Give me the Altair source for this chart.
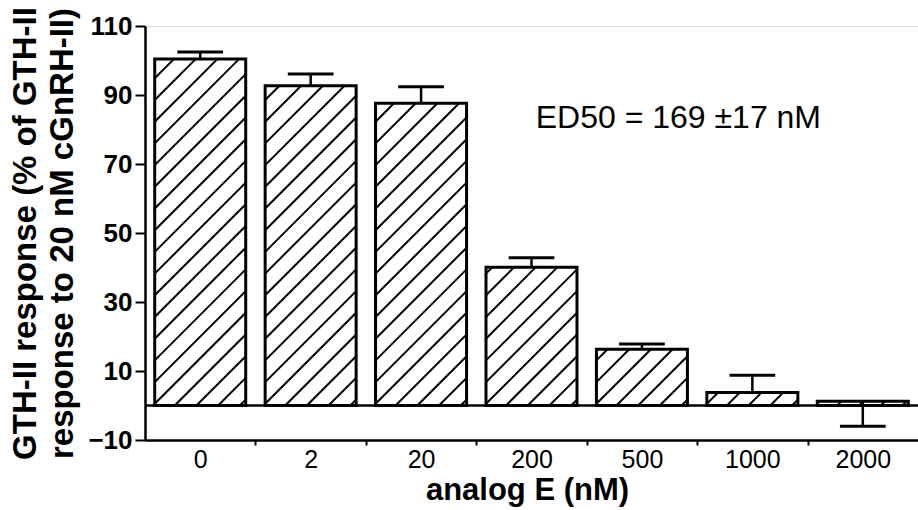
import json
import numpy as np
import pandas as pd
import altair as alt

# ---- data ----
categories = ["0", "2", "20", "200", "500", "1000", "2000"]
values = [100.4, 92.7, 87.6, 40.1, 16.3, 3.8, 1.2]
errors = [2.1, 3.4, 4.8, 2.7, 1.5, 5.0, -7.2]   # signed: last one drawn downward
y_ticks = list(range(-10, 111, 10))
annotation = "ED50 = 169 \u00b117 nM"
y_title = ["GTH-II response (% of GTH-II", "response to 20 nM  cGnRH-II)"]
x_title = "analog E (nM)"

# ---- layout / style ----
W, H = 773, 414
X_DOMAIN = [-0.5, len(categories) - 0.5]
Y_DOMAIN = [-10, 110]
HALF = 0.412       # half bar width in category units
CAP = 0.207        # half error-cap width
FONT = "Liberation Sans"
HATCH_SPACING = 21.7  # px

bars = pd.DataFrame({
    "idx": list(range(len(categories))),
    "cat": categories,
    "value": values,
    "err": errors,
})

# hatch segments (45 degree lines in pixel space), clipped to each bar
sx = W / (X_DOMAIN[1] - X_DOMAIN[0])
sy = H / (Y_DOMAIN[1] - Y_DOMAIN[0])
rows = []
for i, v in enumerate(values):
    xl = i - HALF
    Wp = 2 * HALF * sx
    Hp = v * sy
    for k in range(-10, 60):
        c = -20 + k * HATCH_SPACING
        X0 = max(0.0, -c)
        X1 = min(Wp, Hp - c)
        if X1 - X0 > 0.5:
            rows.append({
                "hx": xl + X0 / sx, "hy": (X0 + c) / sy,
                "hx2": xl + X1 / sx, "hy2": (X1 + c) / sy,
            })
hatch = pd.DataFrame(rows)

xscale = alt.Scale(domain=X_DOMAIN, nice=False, zero=False)
yscale = alt.Scale(domain=Y_DOMAIN, nice=False, zero=False)

label_js = json.dumps(categories)
x_axis = alt.Axis(
    values=[i * 0.5 for i in range(0, 2 * len(categories) - 1)],
    labelExpr=f"datum.value % 1 == 0 ? {label_js}[datum.value] : ''",
    tickOpacity={"condition": {"test": "datum.value % 1 == 0", "value": 0}, "value": 1},
    tickSize=5, tickWidth=2, tickColor="black",
    domainColor="black", domainWidth=2.5,
    labelFont=FONT, labelFontSize=25, labelColor="black", labelPadding=2,
    labelFlush=False, labelOverlap=False,
    grid=False,
    title=x_title, titleFont=FONT, titleFontSize=31, titleFontWeight="bold",
    titleColor="black", titleBaseline="alphabetic", titleY=59, titleX=382,
)
y_axis = alt.Axis(
    values=y_ticks,
    labelExpr="datum.value % 20 != 0 ? datum.label : ''",
    tickSize={"condition": {"test": "datum.value % 20 != 0", "value": 10}, "value": 5},
    tickWidth=2, tickColor="black",
    domainColor="black", domainWidth=2.5,
    labelFont=FONT, labelFontSize=26, labelFontWeight="bold", labelColor="black",
    labelPadding=3, labelFlush=False, labelOverlap=False,
    grid=False,
    title=y_title, titleFont=FONT, titleFontSize=33, titleFontWeight="bold",
    titleColor="black", titleAngle=270, titleAlign="center",
    titleBaseline="alphabetic", titleLineHeight=37, titleX=-110, titleY=207,
)

base = alt.Chart(bars).transform_calculate(
    x1=f"datum.idx - {HALF}", x2=f"datum.idx + {HALF}",
    c1=f"datum.idx - {CAP}", c2=f"datum.idx + {CAP}",
    tip="datum.value + datum.err",
)

fill = base.mark_rect(fill="white", strokeWidth=0).encode(
    x=alt.X("x1:Q", scale=xscale, axis=x_axis),
    x2="x2:Q",
    y=alt.Y("value:Q", scale=yscale, axis=y_axis),
    y2=alt.datum(0),
)

hatch_layer = alt.Chart(hatch).mark_rule(color="black", strokeWidth=2).encode(
    x=alt.X("hx:Q", scale=xscale), x2="hx2:Q",
    y=alt.Y("hy:Q", scale=yscale), y2="hy2:Q",
)

outline = base.mark_rect(fill="transparent", stroke="black", strokeWidth=3).encode(
    x=alt.X("x1:Q", scale=xscale), x2="x2:Q",
    y=alt.Y("value:Q", scale=yscale), y2=alt.datum(0),
)

err_stem = base.mark_rule(color="black", strokeWidth=2.5).encode(
    x=alt.X("idx:Q", scale=xscale),
    y=alt.Y("value:Q", scale=yscale), y2="tip:Q",
)
err_cap = base.mark_rule(color="black", strokeWidth=3).encode(
    x=alt.X("c1:Q", scale=xscale), x2="c2:Q",
    y=alt.Y("tip:Q", scale=yscale),
)

zero_line = alt.Chart(pd.DataFrame({"z": [0]})).mark_rule(
    color="black", strokeWidth=2.5
).encode(y=alt.Y("z:Q", scale=yscale))

note = alt.Chart(pd.DataFrame({"t": [annotation], "ax": [4.33], "ay": [83.3]})).mark_text(
    font=FONT, fontSize=32, color="black", align="center", baseline="middle"
).encode(
    x=alt.X("ax:Q", scale=xscale), y=alt.Y("ay:Q", scale=yscale), text="t:N"
)

chart = alt.layer(fill, hatch_layer, outline, err_stem, err_cap, zero_line, note).properties(
    width=W, height=H,
    autosize=alt.AutoSizeParams(type="none"),
    padding={"left": 145, "top": 26, "right": 0, "bottom": 70},
).configure_view(strokeWidth=0, strokeOpacity=0, stroke="white").configure_axis(
    grid=False
).configure(background="white")

chart.save("out.html", embed_options={"renderer": "svg", "actions": False})
